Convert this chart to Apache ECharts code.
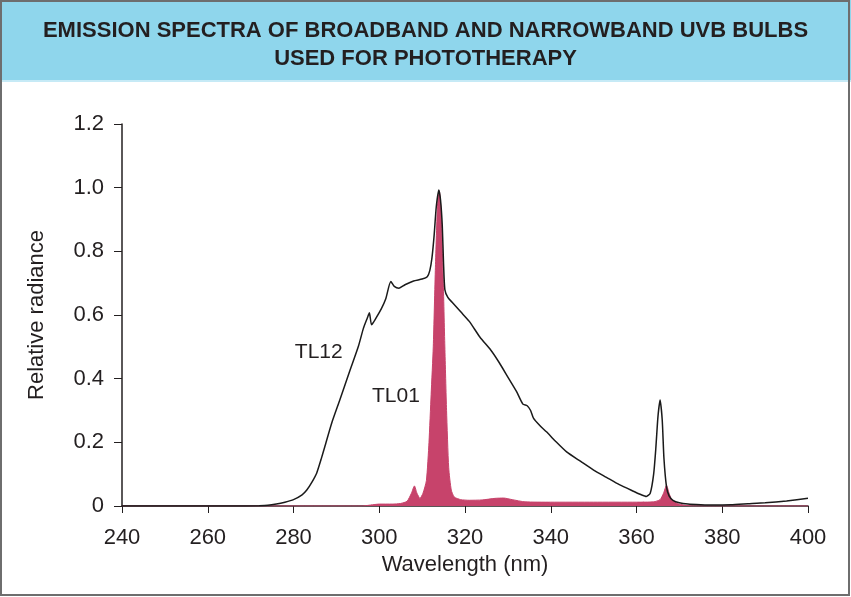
<!DOCTYPE html>
<html>
<head>
<meta charset="utf-8">
<script src="https://cdn.jsdelivr.net/npm/echarts@6/dist/echarts.min.js"></script>
<style>
  html, body { margin: 0; padding: 0; background: #fff; }
  #chart { width: 851px; height: 597px; }
</style>
</head>
<body>
<div id="chart"></div>
<script>
// wavelength ticks (nm) and radiance ticks
var xTicks = [240, 260, 280, 300, 320, 340, 360, 380, 400];
var yTicks = [0, 0.2, 0.4, 0.6, 0.8, 1.0, 1.2];

// broadband TL12 spectrum, [wavelength, relative radiance]
var tl12 = [
  [240, 0], [266, 0], [272, 0.001], [274, 0.002], [276, 0.006], [278, 0.012],
  [280, 0.02], [282, 0.035], [283.1, 0.05], [284.3, 0.075], [285.4, 0.103], [286.4, 0.145],
  [287.3, 0.186], [288.9, 0.26], [290.8, 0.333], [293.2, 0.427], [295.1, 0.5], [296.3, 0.558],
  [297.2, 0.59], [297.7, 0.607], [298.2, 0.569], [299, 0.585], [300.5, 0.62], [301.5, 0.65],
  [302.7, 0.705], [303.5, 0.69], [304.6, 0.684], [306, 0.695], [308, 0.707], [310, 0.713],
  [311.2, 0.72], [311.8, 0.74], [312.3, 0.78], [312.8, 0.85], [313.3, 0.94], [313.9, 0.993],
  [314.3, 0.96], [314.7, 0.88], [315, 0.76], [315.3, 0.68], [316, 0.655], [317, 0.64],
  [319, 0.61], [321, 0.58], [323.5, 0.53], [326, 0.49], [328, 0.45], [330, 0.405],
  [332, 0.36], [333.5, 0.32], [334.5, 0.315], [335.3, 0.3], [336, 0.275], [337.5, 0.252],
  [339, 0.233], [341, 0.205], [343.7, 0.17], [347, 0.14], [350, 0.113], [353, 0.09],
  [356, 0.067], [359, 0.048], [361, 0.036], [362.3, 0.03], [363.2, 0.04], [364, 0.1],
  [364.5, 0.18], [365, 0.28], [365.5, 0.333], [366, 0.27], [366.4, 0.15], [367, 0.06],
  [367.6, 0.032], [368.5, 0.018], [370, 0.01], [372, 0.006], [375, 0.004], [378, 0.003],
  [382, 0.004], [386, 0.007], [390, 0.01], [395, 0.016], [400, 0.024]
];

// narrowband TL01 spectrum
var tl01 = [
  [240, 0], [296, 0], [298, 0.003], [300, 0.006], [303, 0.006], [305, 0.008],
  [306.5, 0.015], [307.5, 0.04], [308.2, 0.063], [308.8, 0.04], [309.5, 0.024], [310.2, 0.04],
  [311, 0.08], [311.6, 0.2], [312.1, 0.35], [312.6, 0.5], [313.1, 0.75], [313.6, 0.95],
  [314, 0.99], [314.4, 0.93], [314.9, 0.72], [315.3, 0.5], [315.7, 0.3], [316.2, 0.12],
  [316.8, 0.05], [317.5, 0.028], [319, 0.02], [321, 0.018], [324, 0.019], [327, 0.024],
  [329, 0.025], [331, 0.02], [334, 0.013], [340, 0.012], [350, 0.012], [360, 0.012],
  [364, 0.013], [365.5, 0.02], [366.3, 0.04], [367, 0.065], [367.6, 0.04], [368.3, 0.018],
  [369.5, 0.008], [371, 0.003], [373, 0], [400, 0]
];

// where the curve names sit, in data units
var tl12Label = [285.9, 0.484];
var tl01Label = [303.9, 0.346];

var titleLines = 'EMISSION SPECTRA OF BROADBAND AND NARROWBAND UVB BULBS\nUSED FOR PHOTOTHERAPY';

var font = '"Liberation Sans", Arial, Helvetica, sans-serif';
var ink = '#231f20';

var myChart = echarts.init(document.getElementById('chart'));

function nameLabel(text) {
  return {
    symbol: 'circle',
    symbolSize: 0,
    label: {
      show: true,
      position: 'inside',
      formatter: text,
      color: ink,
      fontFamily: font,
      fontSize: 21
    }
  };
}

var option = {
  backgroundColor: '#fff',
  animation: false,
  graphic: [
    { type: 'rect', z: -1, shape: { x: 0, y: 0, width: 851, height: 80 }, style: { fill: '#8fd6ec' } },
    { type: 'rect', z: -1, shape: { x: 0, y: 80, width: 851, height: 2 }, style: { fill: '#c6eaf6' } },
    {
      type: 'text', left: 'center', top: 17,
      style: {
        text: titleLines, fill: ink, font: 'bold 22px ' + font,
        textAlign: 'center', lineHeight: 28
      }
    },
    {
      type: 'rect', z: 100, silent: true,
      shape: { x: 1, y: 1, width: 848, height: 594 },
      style: { fill: 'none', stroke: '#6e6e6e', lineWidth: 2 }
    }
  ],
  grid: { left: 122, right: 43, top: 124, bottom: 91 },
  xAxis: {
    type: 'value',
    min: xTicks[0],
    max: xTicks[xTicks.length - 1],
    interval: 20,
    name: 'Wavelength (nm)',
    nameLocation: 'middle',
    nameGap: 48,
    nameTextStyle: { color: ink, fontFamily: font, fontSize: 22 },
    axisLine: { lineStyle: { color: ink, width: 1.5 } },
    axisTick: { length: 7, lineStyle: { color: ink, width: 1 } },
    axisLabel: { color: ink, fontFamily: font, fontSize: 22, margin: 21 },
    splitLine: { show: false }
  },
  yAxis: {
    type: 'value',
    min: yTicks[0],
    max: yTicks[yTicks.length - 1],
    interval: 0.2,
    name: 'Relative radiance',
    nameLocation: 'middle',
    nameGap: 74,
    nameTextStyle: { color: ink, fontFamily: font, fontSize: 22 },
    axisLine: { show: true, lineStyle: { color: ink, width: 1.5 } },
    axisTick: { show: true, length: 8, lineStyle: { color: ink, width: 1 } },
    axisLabel: {
      color: ink, fontFamily: font, fontSize: 22, margin: 18,
      formatter: function (v) { return v === 0 ? '0' : v.toFixed(1); }
    },
    splitLine: { show: false }
  },
  series: [
    {
      name: 'TL01',
      type: 'line',
      data: tl01,
      showSymbol: false,
      smooth: 0.2,
      lineStyle: { color: '#c7436b', width: 1 },
      areaStyle: { color: '#c7436b', opacity: 1 },
      z: 2,
      markPoint: { data: [Object.assign({ coord: tl01Label }, nameLabel('TL01'))] }
    },
    {
      name: 'TL12',
      type: 'line',
      data: tl12,
      showSymbol: false,
      smooth: 0.2,
      lineStyle: { color: '#1a1a1a', width: 1.5 },
      z: 3,
      markPoint: { data: [Object.assign({ coord: tl12Label }, nameLabel('TL12'))] }
    }
  ]
};

myChart.setOption(option);
</script>
</body>
</html>
